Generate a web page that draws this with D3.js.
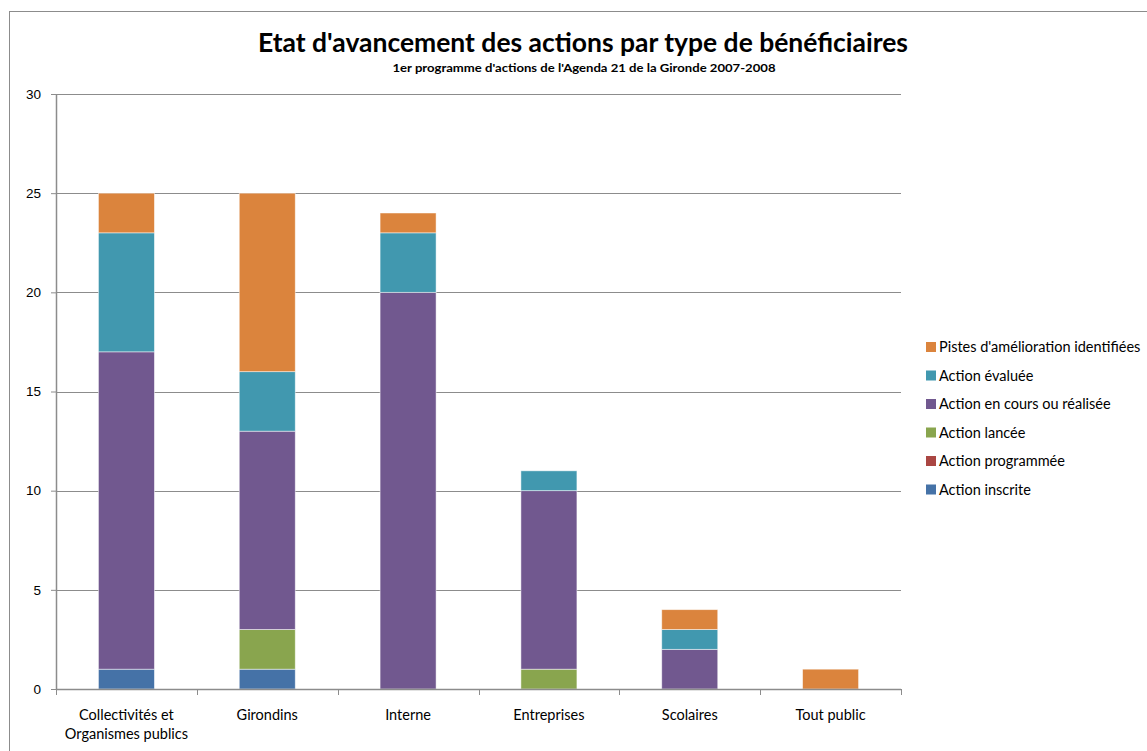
<!DOCTYPE html>
<html>
<head>
<meta charset="utf-8">
<script src="https://cdn.jsdelivr.net/npm/d3@7"></script>
<style>
  body { margin: 0; background: #fff; }
  svg { font-family: Lato, "Open Sans", sans-serif; }
</style>
</head>
<body>
<svg id="chart" width="1147" height="751"></svg>
<script>
var categories = [["Collectivités et", "Organismes publics"], ["Girondins"], ["Interne"], ["Entreprises"], ["Scolaires"], ["Tout public"]];
var seriesNames = ["Action inscrite", "Action programmée", "Action lancée", "Action en cours ou réalisée", "Action évaluée", "Pistes d'amélioration  identifiées"];
var seriesColors = ["#4572A7", "#AA4643", "#89A54E", "#71588F", "#4198AF", "#DB843D"];
var inscrite = [1, 1, 0, 0, 0, 0];
var programmee = [0, 0, 0, 0, 0, 0];
var lancee = [0, 2, 0, 1, 0, 0];
var enCours = [16, 10, 20, 9, 2, 0];
var evaluee = [6, 3, 3, 1, 1, 0];
var pistes = [2, 9, 1, 0, 1, 1];
var yTicks = [0, 5, 10, 15, 20, 25, 30];

var series = [inscrite, programmee, lancee, enCours, evaluee, pistes];

var svg = d3.select("#chart");
var margin = { top: 94, left: 56, right: 246, bottom: 62 };
var width = 1147 - margin.left - margin.right,
    height = 751 - margin.top - margin.bottom;

// outer frame
svg.append("rect")
    .attr("x", 9.5).attr("y", 11.5)
    .attr("width", 1200).attr("height", 800)
    .attr("fill", "none").attr("stroke", "#8c8c8c").attr("stroke-width", 1);

svg.append("text")
    .attr("x", 583).attr("y", 52)
    .attr("text-anchor", "middle")
    .attr("font-size", 27).attr("font-weight", "bold")
    .attr("fill", "#000")
    .attr("textLength", 650).attr("lengthAdjust", "spacingAndGlyphs")
    .text("Etat d'avancement des actions par type de bénéficiaires");

svg.append("text")
    .attr("x", 584).attr("y", 72)
    .attr("text-anchor", "middle")
    .attr("font-size", 11.5).attr("font-weight", "bold")
    .attr("fill", "#000")
    .attr("textLength", 383).attr("lengthAdjust", "spacingAndGlyphs")
    .text("1er programme d'actions de l'Agenda 21 de la Gironde 2007-2008");

var g = svg.append("g").attr("transform", "translate(" + margin.left + "," + margin.top + ")");

var x = d3.scaleBand().domain(d3.range(categories.length)).range([0, width]).paddingInner(0).paddingOuter(0);
var y = d3.scaleLinear().domain([0, 30]).range([height, 0]);

// gridlines
g.selectAll(".grid").data(yTicks.slice(1)).enter().append("line")
    .attr("x1", 0).attr("x2", width)
    .attr("y1", function (d) { return Math.round(y(d)) + 0.5; })
    .attr("y2", function (d) { return Math.round(y(d)) + 0.5; })
    .attr("stroke", "#8c8c8c").attr("stroke-width", 1);

// stacked bars
var rows = categories.map(function (c, i) {
    var r = { i: i };
    series.forEach(function (s, k) { r[k] = s[i]; });
    return r;
});
var stack = d3.stack().keys(d3.range(series.length));
var stacked = stack(rows);
var barW = 56;

g.selectAll(".layer").data(stacked).enter().append("g")
    .attr("fill", function (d, k) { return seriesColors[k]; })
    .selectAll("rect").data(function (d) { return d.filter(function (p) { return p[1] > p[0]; }); })
    .enter().append("rect")
    .attr("x", function (d) { return x(d.data.i) + x.bandwidth() / 2 - barW / 2; })
    .attr("y", function (d) { return y(d[1]); })
    .attr("width", barW)
    .attr("height", function (d) { return y(d[0]) - y(d[1]); })
    .attr("stroke", "rgba(255,255,255,0.6)").attr("stroke-width", 0.8);

// y axis
var yAxis = g.append("g")
    .call(d3.axisLeft(y).tickValues(yTicks).tickSize(5).tickSizeOuter(0).tickPadding(10));
yAxis.select(".domain").attr("stroke", "#8c8c8c").attr("stroke-width", 1.5);
yAxis.selectAll(".tick line").attr("stroke", "#8c8c8c");
yAxis.selectAll("text").attr("font-size", 13.5).attr("fill", "#000");

// x axis
var xAxisG = g.append("g").attr("transform", "translate(0," + height + ")");
xAxisG.append("line").attr("x1", 0).attr("x2", width).attr("y1", 0.5).attr("y2", 0.5)
    .attr("stroke", "#8c8c8c").attr("stroke-width", 1.5);
xAxisG.selectAll(".xt").data(d3.range(categories.length + 1)).enter().append("line")
    .attr("x1", function (d) { return Math.round(d * x.bandwidth()) + 0.5; })
    .attr("x2", function (d) { return Math.round(d * x.bandwidth()) + 0.5; })
    .attr("y1", 0).attr("y2", 6)
    .attr("stroke", "#8c8c8c");
xAxisG.selectAll(".xl").data(categories).enter().append("text")
    .attr("x", function (d, i) { return x(i) + x.bandwidth() / 2; })
    .attr("y", 31)
    .attr("text-anchor", "middle")
    .attr("font-size", 14.5).attr("fill", "#000")
    .selectAll("tspan").data(function (d) { return d; }).enter().append("tspan")
    .attr("x", function () { var p = d3.select(this.parentNode); return p.attr("x"); })
    .attr("dy", function (d, j) { return j === 0 ? 0 : 19; })
    .text(function (d) { return d; });

// legend (reverse order)
var legend = svg.append("g").attr("transform", "translate(926,347)");
var legendItems = seriesNames.map(function (n, k) { return { name: n, color: seriesColors[k] }; }).reverse();
var li = legend.selectAll(".li").data(legendItems).enter().append("g")
    .attr("transform", function (d, i) { return "translate(0," + (i * 28.5) + ")"; });
li.append("rect").attr("x", 0).attr("y", -5).attr("width", 10).attr("height", 10)
    .attr("fill", function (d) { return d.color; });
li.append("text").attr("x", 13).attr("y", 5)
    .attr("font-size", 14.5).attr("fill", "#000")
    .text(function (d) { return d.name; });
</script>
</body>
</html>
